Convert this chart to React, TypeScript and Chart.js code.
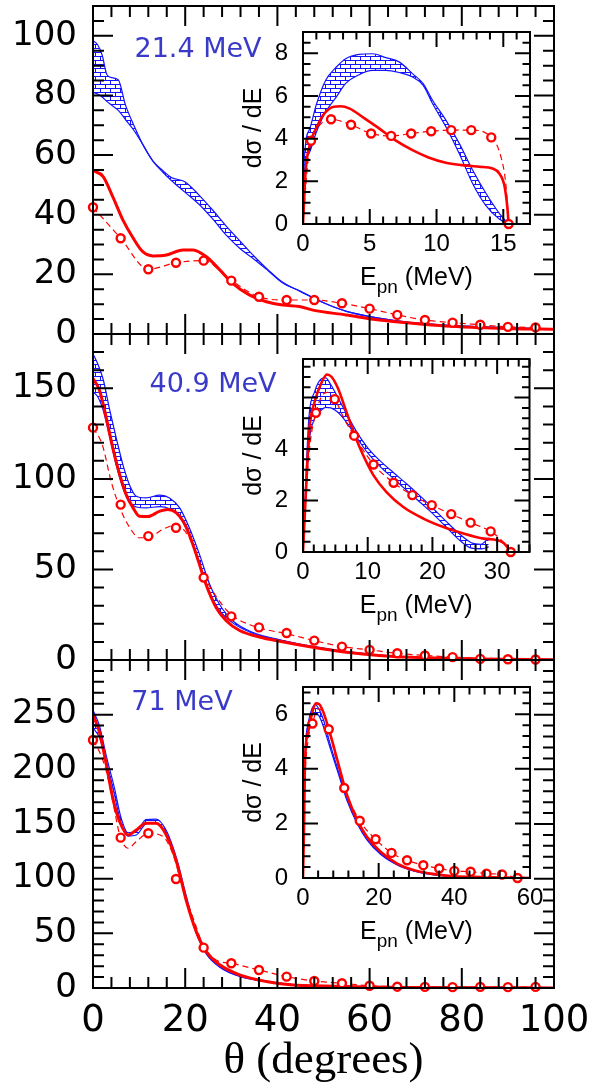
import { useEffect, useRef } from 'react';
import { Chart, registerables } from 'chart.js';

Chart.register(...registerables);

const WIDTH = 591;
const HEIGHT = 1084;

const RED = 'rgb(255,0,0)';
const BLUE = 'rgb(20,20,255)';
const TAG_BLUE = 'rgb(58,58,200)';

// ---------- angular distributions (mb/sr vs theta) ----------
const expAngles = [0, 6, 12, 18, 24, 30, 36, 42, 48, 54, 60, 66, 72, 78, 84, 90, 96];

// 21.4 MeV
const exp214 = [42.5, 32.1, 21.7, 23.9, 24.6, 17.9, 12.5, 11.4, 11.4, 10.3, 8.5, 6.4, 4.7, 3.8, 3.1, 2.4, 2.2];
const calcAngles214 = [0, 2.2, 4.3, 6.5, 8.7, 10.8, 13, 15.9, 19.5, 21.7, 24.6, 27.5, 30.3, 33.9, 37.6, 41.2, 44.8, 47.7, 54.9, 62.1, 69.3, 76.5, 83.7, 91, 100];
const calc214 = [54.8, 52.8, 46, 38.2, 32.2, 27.6, 26.2, 26.5, 28.2, 28.2, 25.9, 21.5, 17, 13.1, 10.8, 9.7, 9.2, 8, 6.4, 4.7, 3.6, 2.7, 2.2, 1.8, 1.6];
const bandAngles214 = [0, 1, 2, 3, 4, 5.5, 7, 9, 11, 13, 15, 17, 20, 23, 26, 29, 32, 35, 38, 41, 45, 50, 55, 62, 69, 77, 84, 92, 100];
const bandHi214 = [98.4, 97, 93.5, 87, 86, 85.2, 77, 69.5, 63, 58, 55, 52.5, 51, 46.6, 41.5, 36, 31, 26, 21.5, 17.5, 14.3, 10.5, 7.6, 5.3, 3.8, 2.9, 2.4, 2.0, 1.7];
const bandLo214 = [81, 80.5, 79.5, 78, 76.8, 75, 72, 68, 63, 58, 54.5, 51.5, 47.5, 43.5, 38.5, 33, 28.5, 25, 21.2, 17.3, 14.3, 10.5, 7.6, 5.3, 3.8, 2.9, 2.4, 2.0, 1.7];

// 40.9 MeV
const exp409 = [128.3, 85.8, 68.4, 73, 45.5, 24.1, 18, 14.9, 10.7, 7.4, 5.6, 3.7, 2.5, 1.6, 0.6, 0.4, 0.3];
const calcAngles409 = [0, 1.4, 2.9, 4.3, 5.8, 7.2, 8.7, 10.1, 11.9, 14.5, 16.2, 18.1, 20.3, 22.4, 24.5, 26.7, 28.9, 31.8, 36.1, 40.5, 47.7, 55, 62, 69, 84, 100];
const calc409 = [155.4, 149, 133.4, 117, 102.3, 91.3, 84, 79.4, 79.2, 82.2, 83.1, 81.2, 73, 58.3, 41.8, 29, 21.7, 16.3, 12.7, 10.3, 7, 4.3, 2.5, 1.5, 0.6, 0.2];
const dashAngles409 = [0, 2, 4, 6, 8, 10, 12, 15, 18, 21, 24, 27, 30, 34, 38, 42, 48, 54, 60, 66, 72, 78, 84, 90, 96];
const dash409 = [128.3, 119, 98, 83, 73, 67.5, 67.5, 72, 74.5, 67, 47, 34, 25, 19.5, 16.5, 14.5, 10.7, 7.4, 5.6, 3.7, 2.5, 1.6, 0.8, 0.5, 0.3];
const bandAngles409 = [0, 1, 2.2, 3.6, 5.1, 6.5, 7.9, 9.4, 11.5, 14.5, 16.6, 18.8, 20.9, 23.1, 25.3, 27.4, 30.3, 34.6, 40.5, 47.7, 55, 62, 69, 84, 100];
const bandHi409 = [169, 163.7, 155, 138.4, 122, 107.7, 96.8, 90.4, 89.5, 91, 89.5, 84, 73, 58.3, 41.8, 30.9, 21.7, 15.3, 11.2, 7.5, 4.6, 2.7, 1.6, 0.7, 0.3];
const bandLo409 = [148, 145.5, 138, 123.5, 107, 95, 87, 84.5, 84, 84.7, 83.5, 79, 68.5, 53, 37, 27.5, 20.5, 14.8, 11, 7.3, 4.4, 2.6, 1.5, 0.6, 0.2];

// 71 MeV
const exp71 = [226.8, 137.5, 141.5, 99.7, 36.9, 22.6, 16.5, 10.4, 6.4, 4.3, 2.1, 1.2, 1, 0.8, 1, 0.8, 1];
const calcAngles71 = [0, 1.4, 2.9, 4.3, 5.8, 7.6, 9.4, 11.5, 13.7, 15.9, 18.1, 20.3, 22.4, 24.6, 27.5, 31.8, 37.6, 43.4, 50, 60, 70, 80, 90, 100];
const calc71 = [249.7, 234, 204, 173.5, 152, 140, 144.5, 150.6, 150.6, 140, 115.6, 79, 51.6, 33.3, 21.2, 12, 5.9, 2.8, 1.8, 0.9, 0.5, 0.3, 0.2, 0.1];
const dashAngles71 = [0, 1.4, 2.9, 4.3, 5.8, 7.6, 9.4, 12, 15.2, 17.4, 19.5, 22, 24, 26.7, 30, 36, 42, 48, 54, 60, 66, 72, 78, 84, 90, 96];
const dash71 = [226.8, 216, 198, 170.6, 140, 127.8, 134, 141.5, 138.5, 121.7, 91.2, 60.7, 38, 25.6, 22.6, 16.5, 10.4, 6.4, 4.3, 2.1, 1.2, 1, 1, 0.8, 0.8, 0.8];
const bandAngles71 = [0, 1.4, 2.9, 4.7, 6, 7.6, 9.4, 11.5, 13.7, 15.9, 18.1, 20.3, 22.4, 24.6, 27.5, 31.8, 37.6, 43.4, 50, 60, 70, 80, 100];
const bandHi71 = [254, 240, 212, 182, 157, 142, 143, 154, 154.5, 144, 119, 83, 52, 32, 19.5, 11, 6, 3.2, 2, 1, 0.7, 0.5, 0.3];
const bandLo71 = [238, 229, 207, 176, 152, 139, 140, 150, 151, 140, 116, 80, 50, 31, 19, 10.5, 5.8, 3, 1.8, 1, 0.7, 0.5, 0.3];

// ---------- energy spectra (dsigma/dE vs E_pn) ----------
// 21.4 MeV
const expE214 = [0.6, 2.1, 3.6, 5.1, 6.6, 8.1, 9.6, 11.1, 12.6, 14.1, 15.4];
const expS214 = [3.9, 4.91, 4.65, 4.24, 4.13, 4.24, 4.35, 4.4, 4.4, 4.06, 0];
const calcE214 = [0, 0.2, 0.6, 1.0, 1.5, 2.3, 2.8, 3.5, 4.5, 5.7, 6.9, 8.2, 9.4, 10.7, 11.9, 13.2, 14.2, 14.7, 15.1, 15.3, 15.4];
const calcS214 = [0, 2.5, 3.9, 4.5, 5.1, 5.5, 5.52, 5.41, 5.0, 4.48, 3.93, 3.46, 3.12, 2.87, 2.76, 2.68, 2.6, 2.37, 1.75, 0.8, 0];
const dashE214 = [0, 0.3, 0.6, 1.2, 2.1, 3.6, 5.1, 6.6, 8.1, 9.6, 11.1, 12.6, 14.1, 14.8, 15.2, 15.4];
const dashS214 = [0, 2.5, 3.9, 4.6, 4.91, 4.65, 4.24, 4.13, 4.24, 4.35, 4.4, 4.4, 4.06, 3.2, 1.8, 0];
const bandE214 = [0, 0.1, 0.5, 1.0, 1.7, 2.5, 3.2, 4.2, 5.2, 6.2, 7.2, 8.2, 9.0, 9.7, 10.7, 11.7, 12.7, 13.7, 14.7, 15.4];
const bandHiE214 = [0, 3.06, 4.45, 5.6, 6.74, 7.36, 7.75, 7.95, 7.98, 7.8, 7.6, 7.05, 6.58, 5.8, 4.87, 3.78, 2.53, 1.44, 0.5, 0];
const bandLoE214 = [0, 2.28, 3.37, 4.3, 5.26, 5.96, 6.59, 7.0, 7.2, 7.2, 7.1, 6.89, 6.5, 5.65, 4.56, 3.31, 1.9, 0.86, 0.23, 0];

// 40.9 MeV
const expE409 = [2, 4.9, 7.9, 10.9, 14, 16.9, 19.9, 22.9, 25.9, 29, 32.1];
const expS409 = [5.41, 5.94, 4.52, 3.40, 2.69, 2.21, 1.82, 1.47, 1.14, 0.80, 0];
const calcE409 = [0, 0.5, 1.0, 1.8, 2.8, 3.7, 4.4, 5.4, 6.7, 8.0, 9.3, 10.9, 12.9, 15.5, 18.6, 21.7, 24.8, 27.9, 30.0, 31.1, 32.1];
const calcS409 = [0, 2.6, 4.8, 5.84, 6.55, 6.9, 6.81, 6.36, 5.45, 4.54, 3.76, 2.98, 2.33, 1.75, 1.3, 0.97, 0.72, 0.52, 0.46, 0.33, 0];
const dashE409 = [0, 0.5, 1.2, 2, 3, 3.8, 4.9, 6.5, 7.9, 10.9, 14, 16.9, 19.9, 22.9, 25.9, 29, 30.5, 31.5, 32.1];
const dashS409 = [0, 2.5, 4.4, 5.41, 6.1, 6.2, 5.94, 5.1, 4.52, 3.40, 2.69, 2.21, 1.82, 1.47, 1.14, 0.80, 0.5, 0.2, 0];
const bandE409 = [0, 0.4, 0.9, 1.8, 2.8, 3.5, 4.3, 5.3, 6.7, 8.3, 10, 12, 14, 16, 18, 20, 22, 24, 26, 27.5, 28.7];
const bandHiE409 = [0, 2.6, 5.2, 6.23, 6.72, 6.77, 6.5, 6.05, 5.38, 4.67, 4.05, 3.52, 3.08, 2.65, 2.2, 1.72, 1.22, 0.74, 0.36, 0.3, 0.55];
const bandLoE409 = [0, 1.97, 4.15, 5.19, 5.51, 5.62, 5.6, 5.45, 5.05, 4.45, 3.85, 3.3, 2.85, 2.4, 1.95, 1.5, 1.0, 0.5, 0.15, 0.12, 0.2];

// 71 MeV
const expE71 = [2.5, 6.8, 10.9, 15, 19.2, 23.4, 27.5, 31.8, 36, 40, 44.3, 48.5, 52.6, 56.7];
const expS71 = [5.66, 5.45, 3.3, 2.1, 1.42, 0.92, 0.65, 0.47, 0.35, 0.26, 0.23, 0.16, 0.13, 0];
const calcE71 = [0, 0.3, 0.5, 1.4, 2.5, 3.4, 4.3, 5.4, 7.2, 9.4, 11.6, 14.3, 16.9, 20.5, 24.9, 29.4, 33.8, 39.1, 45, 52, 60];
const calcS71 = [0, 2.07, 4.15, 5.39, 6.1, 6.4, 6.37, 6.07, 5.27, 4.16, 3.05, 2.13, 1.51, 0.96, 0.53, 0.28, 0.16, 0.07, 0.04, 0.02, 0];
const dashE71 = [0, 0.5, 1.3, 2.5, 4, 5.2, 6.8, 8.5, 10.9, 15, 19.2, 23.4, 27.5, 31.8, 36, 40, 44.3, 48.5, 52.6, 56.7];
const dashS71 = [0, 3.5, 5.0, 5.66, 6.2, 6.1, 5.45, 4.5, 3.3, 2.1, 1.42, 0.92, 0.65, 0.47, 0.35, 0.26, 0.23, 0.16, 0.13, 0];
const bandE71 = [0, 0.5, 1.4, 2.5, 3.2, 4.2, 5.4, 7.2, 9.4, 11.6, 14.3, 16.9, 20.5, 24.9, 29.4, 33.8, 40];
const bandHiE71 = [0, 4.3, 5.7, 6.25, 6.35, 6.2, 5.8, 4.9, 3.9, 2.95, 2.05, 1.45, 0.9, 0.5, 0.27, 0.15, 0.05];
const bandLoE71 = [0, 4.1, 5.5, 6.0, 6.05, 5.95, 5.55, 4.75, 3.8, 2.85, 2.0, 1.4, 0.87, 0.48, 0.25, 0.13, 0.04];

// tick helpers
const seq = (a: number, b: number, step: number) => {
  const out: number[] = [];
  const n = Math.round((b - a) / step);
  for (let i = 0; i <= n; i++) {
    const v = +(a + i * step).toFixed(6);
    if (v <= b + 1e-9) out.push(v);
  }
  return out;
};

type Pair = [number[], number[]];
type AxisDef = { min: number; max: number; labels: number[]; major: number[]; minor: number[] };
type PanelDef = {
  area: { l: number; t: number; r: number; b: number };
  x: AxisDef;
  y: AxisDef;
  kind: 'main' | 'inset';
  showX: boolean;
  exp: Pair;
  calc: Pair;
  dash: Pair;
  hi: Pair;
  lo: Pair;
  tag?: { text: string; dx: number; dy: number };
  title?: string;
};

const thetaAxis = (): AxisDef => ({ min: 0, max: 100, labels: seq(0, 100, 20), major: seq(0, 100, 20), minor: seq(0, 100, 4) });

const PANELS: PanelDef[] = [
  {
    kind: 'main', area: { l: 93, t: 6, r: 554, b: 334 }, showX: false,
    x: thetaAxis(),
    y: { min: 0, max: 110, labels: seq(0, 100, 20), major: seq(0, 100, 20), minor: seq(0, 110, 5) },
    exp: [expAngles, exp214], calc: [calcAngles214, calc214], dash: [expAngles, exp214],
    hi: [bandAngles214, bandHi214], lo: [bandAngles214, bandLo214],
    tag: { text: '21.4 MeV', dx: 105, dy: 44 },
  },
  {
    kind: 'main', area: { l: 93, t: 334, r: 554, b: 660 }, showX: false,
    x: thetaAxis(),
    y: { min: 0, max: 180, labels: seq(0, 150, 50), major: seq(0, 150, 50), minor: seq(0, 180, 10) },
    exp: [expAngles, exp409], calc: [calcAngles409, calc409], dash: [dashAngles409, dash409],
    hi: [bandAngles409, bandHi409], lo: [bandAngles409, bandLo409],
    tag: { text: '40.9 MeV', dx: 120, dy: 51 },
  },
  {
    kind: 'main', area: { l: 93, t: 660, r: 554, b: 988 }, showX: true,
    x: thetaAxis(),
    y: { min: 0, max: 300, labels: seq(0, 250, 50), major: seq(0, 250, 50), minor: seq(0, 300, 10) },
    exp: [expAngles, exp71], calc: [calcAngles71, calc71], dash: [dashAngles71, dash71],
    hi: [bandAngles71, bandHi71], lo: [bandAngles71, bandLo71],
    tag: { text: '71 MeV', dx: 89, dy: 43 },
    title: 'θ (degrees)',
  },
  {
    kind: 'inset', area: { l: 303, t: 32, r: 530, b: 224 }, showX: true,
    x: { min: 0, max: 17, labels: seq(0, 15, 5), major: seq(0, 15, 5), minor: seq(0, 17, 1) },
    y: { min: 0, max: 9, labels: seq(0, 8, 2), major: seq(0, 8, 2), minor: seq(0, 9, 0.5) },
    exp: [expE214, expS214], calc: [calcE214, calcS214], dash: [dashE214, dashS214],
    hi: [bandE214, bandHiE214], lo: [bandE214, bandLoE214],
  },
  {
    kind: 'inset', area: { l: 303, t: 359, r: 529.5, b: 552 }, showX: true,
    x: { min: 0, max: 35, labels: seq(0, 30, 10), major: seq(0, 30, 10), minor: seq(0, 35, 10 / 6) },
    y: { min: 0, max: 7.5, labels: [0, 2, 4], major: seq(0, 6, 2), minor: seq(0, 7.5, 0.4) },
    exp: [expE409, expS409], calc: [calcE409, calcS409], dash: [dashE409, dashS409],
    hi: [bandE409, bandHiE409], lo: [bandE409, bandLoE409],
  },
  {
    kind: 'inset', area: { l: 303, t: 687, r: 530, b: 878 }, showX: true,
    x: { min: 0, max: 60, labels: seq(0, 60, 20), major: seq(0, 60, 20), minor: seq(0, 60, 4) },
    y: { min: 0, max: 7, labels: seq(0, 6, 2), major: seq(0, 6, 2), minor: seq(0, 7, 0.4) },
    exp: [expE71, expS71], calc: [calcE71, calcS71], dash: [dashE71, dashS71],
    hi: [bandE71, bandHiE71], lo: [bandE71, bandLoE71],
  },
];

// brick-style hatch used for the theoretical uncertainty band
function brickPattern(): CanvasPattern | string {
  const c = document.createElement('canvas');
  c.width = 10;
  c.height = 8;
  const g = c.getContext('2d');
  if (!g) return 'rgba(20,20,255,0.3)';
  g.strokeStyle = BLUE;
  g.lineWidth = 1;
  g.beginPath();
  g.moveTo(0, 0.5); g.lineTo(10, 0.5);
  g.moveTo(0, 4.5); g.lineTo(10, 4.5);
  g.moveTo(0.5, 0.5); g.lineTo(0.5, 4.5);
  g.moveTo(5.5, 4.5); g.lineTo(5.5, 8);
  g.stroke();
  return g.createPattern(c, 'repeat') || 'rgba(20,20,255,0.3)';
}

const xy = ([xs, ys]: Pair) => xs.map((x, i) => ({ x, y: ys[i] }));
const has = (arr: number[], v: number) => arr.some((a) => Math.abs(a - v) < 1e-6);

function buildChart(canvas: HTMLCanvasElement, p: PanelDef) {
  const main = p.kind === 'main';
  const yAxisW = main ? 80 : 60;
  const xAxisH = main ? (p.showX ? 96 : 0) : 40;
  const majorLen = main ? 20 : 15;
  const minorLen = main ? 11 : 7.5;
  const yFont = main ? { family: 'DejaVu Sans', size: 34 } : { family: 'Liberation Sans', size: 24 };
  const xFont = main ? { family: 'DejaVu Sans', size: 37 } : { family: 'Liberation Sans', size: 24 };

  const frameTicks = {
    id: 'frameTicks',
    afterDraw(chart: any) {
      const { ctx, chartArea } = chart;
      const { left, right, top, bottom } = chartArea;
      const xs = chart.scales.x;
      const ys = chart.scales.y;
      ctx.save();
      ctx.strokeStyle = '#000';
      ctx.lineWidth = 2;
      ctx.beginPath();
      for (const v of p.x.minor.concat(p.x.major)) {
        const len = has(p.x.major, v) ? majorLen : minorLen;
        const px = xs.getPixelForValue(v);
        ctx.moveTo(px, bottom); ctx.lineTo(px, bottom - len);
        ctx.moveTo(px, top); ctx.lineTo(px, top + len);
      }
      for (const v of p.y.minor.concat(p.y.major)) {
        const len = has(p.y.major, v) ? majorLen : minorLen;
        const py = ys.getPixelForValue(v);
        ctx.moveTo(left, py); ctx.lineTo(left + len, py);
        ctx.moveTo(right, py); ctx.lineTo(right - len, py);
      }
      ctx.stroke();
      ctx.strokeRect(left, top, right - left, bottom - top);
      ctx.restore();
    },
  };

  const annotations = {
    id: 'annotations',
    afterDraw(chart: any) {
      const { ctx, chartArea } = chart;
      const { left, right, top, bottom } = chartArea;
      ctx.save();
      ctx.fillStyle = '#000';
      if (p.tag) {
        ctx.font = '27px "DejaVu Sans"';
        ctx.fillStyle = TAG_BLUE;
        ctx.textAlign = 'center';
        ctx.textBaseline = 'middle';
        ctx.fillText(p.tag.text, left + p.tag.dx, top + p.tag.dy);
      }
      if (p.title) {
        ctx.font = '45px "Liberation Serif"';
        ctx.fillStyle = '#000';
        ctx.textAlign = 'center';
        ctx.textBaseline = 'alphabetic';
        ctx.fillText(p.title, (left + right) / 2, bottom + 85);
      }
      if (!main) {
        ctx.fillStyle = '#000';
        // vertical axis title
        ctx.save();
        ctx.translate(left - 49, (top + bottom) / 2);
        ctx.rotate(-Math.PI / 2);
        ctx.font = '25px "Liberation Sans"';
        ctx.textAlign = 'center';
        ctx.textBaseline = 'middle';
        ctx.fillText('dσ / dE', 0, 0);
        ctx.restore();
        // horizontal axis title with subscript
        const big = '25px "Liberation Sans"';
        const small = '19px "Liberation Sans"';
        ctx.font = big;
        const wE = ctx.measureText('E').width;
        const wRest = ctx.measureText(' (MeV)').width;
        ctx.font = small;
        const wSub = ctx.measureText('pn').width;
        let x0 = (left + right) / 2 - (wE + wSub + wRest) / 2;
        const base = bottom + 61;
        ctx.textAlign = 'left';
        ctx.textBaseline = 'alphabetic';
        ctx.font = big;
        ctx.fillText('E', x0, base);
        x0 += wE;
        ctx.font = small;
        ctx.fillText('pn', x0, base + 8);
        x0 += wSub;
        ctx.font = big;
        ctx.fillText(' (MeV)', x0, base);
      }
      ctx.restore();
    },
  };

  const fillPattern = brickPattern();

  return new Chart(canvas, {
    type: 'line',
    data: {
      datasets: [
        {
          data: xy(p.exp), showLine: false, pointRadius: 4, pointBorderWidth: 2.4,
          pointBorderColor: RED, pointBackgroundColor: '#fff', borderColor: RED, clip: false,
        } as any,
        {
          data: xy(p.calc), borderColor: RED, borderWidth: main ? 3 : 2.6, pointRadius: 0,
          cubicInterpolationMode: 'monotone', fill: false,
        },
        {
          data: xy(p.dash), borderColor: RED, borderWidth: 1.2, borderDash: [6, 4], pointRadius: 0,
          cubicInterpolationMode: 'monotone', fill: false,
        },
        {
          data: xy(p.hi), borderColor: BLUE, borderWidth: 1.2, pointRadius: 0,
          cubicInterpolationMode: 'monotone', fill: '+1', backgroundColor: fillPattern as any,
        },
        {
          data: xy(p.lo), borderColor: BLUE, borderWidth: 1.2, pointRadius: 0,
          cubicInterpolationMode: 'monotone', fill: false,
        },
      ],
    },
    options: {
      animation: false,
      responsive: false,
      events: [],
      layout: {
        autoPadding: false,
        padding: {
          left: p.area.l - yAxisW,
          top: p.area.t,
          right: WIDTH - p.area.r,
          bottom: HEIGHT - p.area.b - xAxisH,
        },
      },
      plugins: { legend: { display: false }, tooltip: { enabled: false } },
      scales: {
        x: {
          type: 'linear', min: p.x.min, max: p.x.max,
          afterBuildTicks: (s: any) => { s.ticks = p.x.labels.map((v) => ({ value: v })); },
          afterFit: (s: any) => { s.height = xAxisH; s.paddingLeft = 0; s.paddingRight = 0; },
          ticks: { display: p.showX, font: xFont, color: '#000', padding: main ? 11 : 6, maxRotation: 0, autoSkip: false },
          grid: { display: false, drawTicks: false },
          border: { display: false },
        },
        y: {
          type: 'linear', min: p.y.min, max: p.y.max,
          afterBuildTicks: (s: any) => { s.ticks = p.y.labels.map((v) => ({ value: v })); },
          afterFit: (s: any) => { s.width = yAxisW; s.paddingTop = 0; s.paddingBottom = 0; },
          ticks: { font: yFont, color: '#000', padding: main ? 16 : 15, autoSkip: false },
          grid: { display: false, drawTicks: false },
          border: { display: false },
        },
      },
    },
    plugins: [frameTicks, annotations],
  } as any);
}

export default function App() {
  const refs = useRef<(HTMLCanvasElement | null)[]>([]);

  useEffect(() => {
    const charts = PANELS.map((p, i) => buildChart(refs.current[i] as HTMLCanvasElement, p));
    return () => charts.forEach((c) => c.destroy());
  }, []);

  return (
    <div style={{ position: 'absolute', left: 0, top: 0, width: WIDTH, height: HEIGHT, background: '#fff' }}>
      {PANELS.map((_, i) => (
        <canvas
          key={i}
          ref={(el) => { refs.current[i] = el; }}
          width={WIDTH}
          height={HEIGHT}
          style={{ position: 'absolute', left: 0, top: 0, width: WIDTH, height: HEIGHT }}
        />
      ))}
    </div>
  );
}
